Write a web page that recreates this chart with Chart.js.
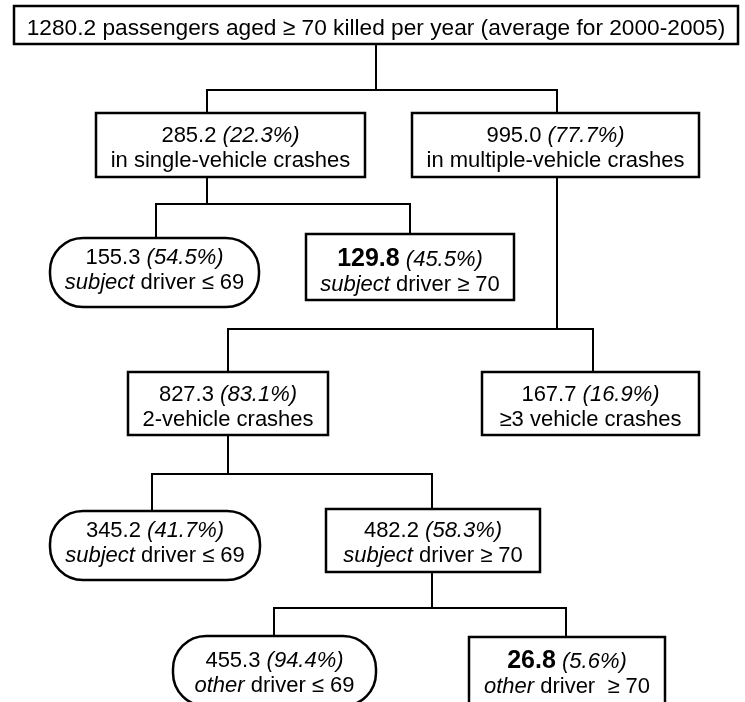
<!DOCTYPE html>
<html>
<head>
<meta charset="utf-8">
<script src="https://cdn.jsdelivr.net/npm/chart.js@4"></script>
<style>
  html, body { margin: 0; padding: 0; background: #fff; }
  #wrap { width: 745px; height: 702px; }
</style>
</head>
<body>
<div id="wrap"><canvas id="chart" width="745" height="702"></canvas></div>
<script>
// tree data: deaths per year, share of parent, parent node, description
const nodeValues = [1280.2, 285.2, 995.0, 155.3, 129.8, 827.3, 167.7, 345.2, 482.2, 455.3, 26.8]
const nodeShares = [null, 22.3, 77.7, 54.5, 45.5, 83.1, 16.9, 41.7, 58.3, 94.4, 5.6]
const nodeParents = [null, 0, 0, 1, 1, 2, 2, 5, 5, 8, 8]
const nodeLabels = [
    'passengers aged ≥ 70 killed per year (average for 2000-2005)',
    'in single-vehicle crashes',
    'in multiple-vehicle crashes',
    '_subject_ driver ≤ 69',
    '_subject_ driver ≥ 70',
    '2-vehicle crashes',
    '≥3 vehicle crashes',
    '_subject_ driver ≤ 69',
    '_subject_ driver ≥ 70',
    '_other_ driver ≤ 69',
    '_other_ driver  ≥ 70'
]
const highlighted = [4, 10]

// layout of the boxes in page units (x1,y1,x2,y2), connector x, text y, bar y under the box
const layout = [
    { x1: 14, y1: 6, x2: 738, y2: 44, anchor: 376, ty: 35, bar: 90, size: 22.7 },
    { x1: 96, y1: 113, x2: 365, y2: 177, anchor: 207, ty: 145, bar: 204 },
    { x1: 412, y1: 113, x2: 699, y2: 177, anchor: 557, ty: 145, bar: 329 },
    { x1: 50, y1: 238, x2: 259, y2: 307, anchor: 156, ty: 266.5, round: true },
    { x1: 306, y1: 234, x2: 514, y2: 300, anchor: 410, ty: 269 },
    { x1: 128, y1: 372, x2: 328, y2: 435, anchor: 228, ty: 404, bar: 474 },
    { x1: 482, y1: 372, x2: 699, y2: 435, anchor: 593, ty: 404 },
    { x1: 50, y1: 511, x2: 260, y2: 580, anchor: 152, ty: 540, round: true },
    { x1: 326, y1: 509, x2: 540, y2: 572, anchor: 432, ty: 540, bar: 608 },
    { x1: 173, y1: 636, x2: 376, y2: 706, anchor: 274, ty: 670, round: true },
    { x1: 469, y1: 637, x2: 665, y2: 704, anchor: 566, ty: 671 }
]

const FONT = '"Liberation Sans", Arial, sans-serif'
const SIZE = 22
const LINE = 25

// one elbow connector per child: parent bottom -> bar -> child top
const connectors = []
nodeParents.forEach((p, i) => {
    if (p === null) return
    const a = layout[p], b = layout[i]
    connectors.push({
        data: [
            { x: a.anchor, y: a.y2 },
            { x: a.anchor, y: a.bar },
            { x: b.anchor, y: a.bar },
            { x: b.anchor, y: b.y1 }
        ],
        showLine: true,
        borderColor: '#000',
        borderWidth: 2,
        borderJoinStyle: 'miter',
        borderCapStyle: 'butt',
        pointRadius: 0,
        fill: false
    })
})

function labelRuns(text) {
    // _word_ marks italic words
    const runs = []
    text.split('_').forEach((part, k) => {
        if (part.length) runs.push({ t: part, style: k % 2 ? 'italic' : 'normal' })
    })
    return runs
}

function lineRuns(i) {
    const value = nodeValues[i].toFixed(1)
    const first = [{ t: value, style: highlighted.includes(i) ? 'bold' : 'normal' }]
    if (nodeShares[i] === null) {
        return [first.concat([{ t: ' ' + nodeLabels[i], style: 'normal' }])]
    }
    first.push({ t: ' ', style: 'normal' })
    first.push({ t: '(' + nodeShares[i].toFixed(1) + '%)', style: 'italic' })
    return [first, labelRuns(nodeLabels[i])]
}

function fontFor(style, size) {
    if (style === 'bold') return 'bold ' + (size + 3) + 'px ' + FONT
    if (style === 'italic') return 'italic ' + size + 'px ' + FONT
    return size + 'px ' + FONT
}

function drawRuns(ctx, runs, cx, y, size) {
    let total = 0
    runs.forEach(r => {
        ctx.font = fontFor(r.style, size)
        r.w = ctx.measureText(r.t).width
        total += r.w
    })
    let x = cx - total / 2
    runs.forEach(r => {
        ctx.font = fontFor(r.style, size)
        ctx.fillText(r.t, x, y)
        x += r.w
    })
}

function boxPath(ctx, x1, y1, x2, y2, round) {
    ctx.beginPath()
    if (!round) {
        ctx.rect(x1, y1, x2 - x1, y2 - y1)
        return
    }
    const r = Math.min(33, (y2 - y1) / 2)
    ctx.moveTo(x1 + r, y1)
    ctx.lineTo(x2 - r, y1)
    ctx.arcTo(x2, y1, x2, y1 + r, r)
    ctx.lineTo(x2, y2 - r)
    ctx.arcTo(x2, y2, x2 - r, y2, r)
    ctx.lineTo(x1 + r, y2)
    ctx.arcTo(x1, y2, x1, y2 - r, r)
    ctx.lineTo(x1, y1 + r)
    ctx.arcTo(x1, y1, x1 + r, y1, r)
    ctx.closePath()
}

const boxesPlugin = {
    id: 'treeBoxes',
    afterDatasetsDraw(chart) {
        const ctx = chart.ctx
        const sx = chart.scales.x, sy = chart.scales.y
        ctx.save()
        layout.forEach((b, i) => {
            const x1 = sx.getPixelForValue(b.x1), x2 = sx.getPixelForValue(b.x2)
            const y1 = sy.getPixelForValue(b.y1), y2 = sy.getPixelForValue(b.y2)
            boxPath(ctx, x1, y1, x2, y2, b.round)
            ctx.fillStyle = '#fff'
            ctx.fill()
            ctx.lineWidth = 2.5
            ctx.strokeStyle = '#000'
            ctx.stroke()

            ctx.fillStyle = '#000'
            ctx.textBaseline = 'alphabetic'
            ctx.textAlign = 'left'
            const lines = lineRuns(i)
            const cx = (x1 + x2) / 2
            const size = b.size || SIZE
            if (lines.length === 1) {
                drawRuns(ctx, lines[0], cx, sy.getPixelForValue(b.ty), size)
            } else {
                drawRuns(ctx, lines[0], cx, sy.getPixelForValue(b.ty - 3), size)
                drawRuns(ctx, lines[1], cx, sy.getPixelForValue(b.ty - 3 + LINE), size)
            }
        })
        ctx.restore()
    }
}

new Chart('chart', {
    type: 'scatter',
    data: { datasets: connectors },
    options: {
        responsive: false,
        animation: false,
        layout: { padding: 0 },
        plugins: { legend: { display: false }, tooltip: { enabled: false } },
        scales: {
            x: { type: 'linear', min: 0, max: 745, display: false },
            y: { type: 'linear', min: 0, max: 702, reverse: true, display: false }
        }
    },
    plugins: [boxesPlugin]
})
</script>
</body>
</html>
